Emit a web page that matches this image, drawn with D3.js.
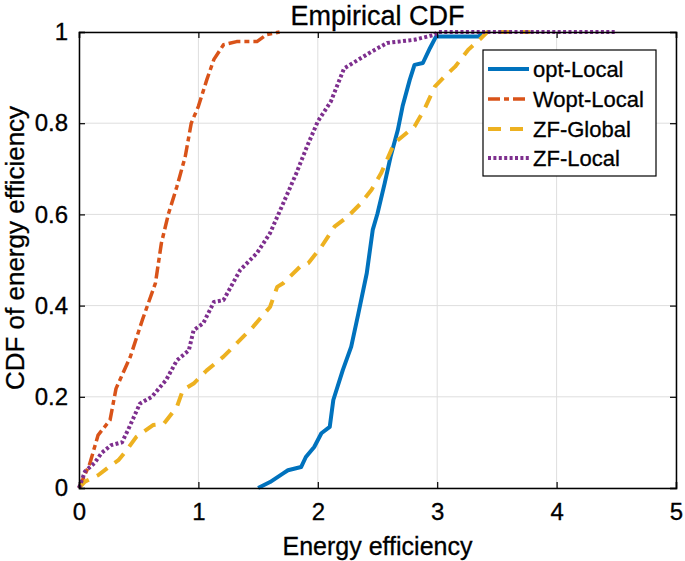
<!DOCTYPE html>
<html>
<head>
<meta charset="utf-8">
<script src="https://cdn.jsdelivr.net/npm/d3@7"></script>
<style>
  html, body { margin: 0; padding: 0; background: #fff; }
  svg text { font-family: "Liberation Sans", Arial, Helvetica, sans-serif; fill: #000; stroke: #000; stroke-width: 0.3px; }
</style>
</head>
<body>
<svg id="chart" width="685" height="561"></svg>
<script>
// ---- data ----
const xTicks = [0, 1, 2, 3, 4, 5];
const yTicks = [0, 0.2, 0.4, 0.6, 0.8, 1];
const seriesNames = ["opt-Local", "Wopt-Local", "ZF-Global", "ZF-Local"];

const optX = [1.50,1.60,1.71,1.75,1.86,1.90,1.97,2.03,2.10,2.13,2.21,2.28,2.34,2.41,2.46,2.50,2.56,2.61,2.67,2.71,2.77,2.81,2.88,2.94,2.99,3.36,3.36];
const optY = [0,0.013,0.032,0.039,0.046,0.068,0.09,0.12,0.134,0.193,0.259,0.31,0.383,0.471,0.566,0.602,0.668,0.727,0.785,0.837,0.895,0.928,0.932,0.965,0.99,0.99,1.0];

const woptX = [0,0.09,0.16,0.26,0.31,0.43,0.53,0.64,0.69,0.75,0.82,0.89,0.94,1.0,1.07,1.13,1.21,1.32,1.49,1.57,1.68];
const woptY = [0,0.053,0.116,0.149,0.218,0.288,0.368,0.449,0.537,0.602,0.661,0.727,0.80,0.837,0.895,0.94,0.972,0.979,0.979,0.994,1.0];

const zfgX = [0,0.05,0.16,0.27,0.33,0.39,0.48,0.62,0.71,0.82,0.87,0.96,1.07,1.21,1.32,1.46,1.54,1.60,1.66,1.71,1.85,1.92,2.03,2.14,2.25,2.36,2.45,2.53,2.64,2.81,2.89,2.98,3.06,3.15,3.26,3.37,3.42,3.78];
const zfgY = [0,0.014,0.028,0.05,0.061,0.08,0.112,0.138,0.141,0.178,0.215,0.229,0.258,0.288,0.317,0.354,0.379,0.397,0.441,0.449,0.485,0.493,0.529,0.573,0.595,0.624,0.654,0.69,0.756,0.793,0.829,0.88,0.902,0.924,0.961,0.987,1.0,1.0];

const zflX = [0,0.05,0.13,0.19,0.27,0.36,0.41,0.51,0.61,0.73,0.82,0.92,0.96,1.04,1.13,1.21,1.35,1.49,1.60,1.71,1.82,1.91,2.0,2.11,2.22,2.45,2.58,2.81,2.98,3.0,4.49];
const zflY = [0,0.036,0.055,0.077,0.094,0.10,0.127,0.185,0.20,0.237,0.28,0.302,0.346,0.361,0.408,0.412,0.478,0.515,0.559,0.624,0.69,0.749,0.804,0.848,0.92,0.957,0.976,0.983,0.994,1.0,1.0];

// ---- styling ----
const styles = [
  { color: "#0072BD", dash: null,        width: 4 },
  { color: "#D95319", dash: "12,4,5,4",  width: 3.5 },
  { color: "#EDB120", dash: "13,9",      width: 4 },
  { color: "#7E2F8E", dash: "3,2.4",     width: 4 }
];
const seriesData = [
  d3.zip(optX, optY),
  d3.zip(woptX, woptY),
  d3.zip(zfgX, zfgY),
  d3.zip(zflX, zflY)
];

const svg = d3.select("#chart");
const mL = 79, mR = 676, mT = 32, mB = 488;
const x = d3.scaleLinear().domain([0, 5]).range([mL, mR]);
const y = d3.scaleLinear().domain([0, 1]).range([mB, mT]);

// grid
const grid = svg.append("g").attr("stroke", "#dedede").attr("stroke-width", 1);
grid.selectAll("line.gx").data(xTicks).join("line").attr("class", "gx")
  .attr("x1", d => x(d)).attr("x2", d => x(d)).attr("y1", mT).attr("y2", mB);
grid.selectAll("line.gy").data(yTicks).join("line").attr("class", "gy")
  .attr("y1", d => y(d)).attr("y2", d => y(d)).attr("x1", mL).attr("x2", mR);

// clip
svg.append("clipPath").attr("id", "clip").append("rect")
  .attr("x", mL - 3).attr("y", mT - 3).attr("width", mR - mL + 6).attr("height", mB - mT + 6);

const line = d3.line().x(d => x(d[0])).y(d => y(d[1]));
const lines = svg.append("g").attr("clip-path", "url(#clip)");
seriesData.forEach((data, i) => {
  lines.append("path")
    .datum(data)
    .attr("d", line)
    .attr("fill", "none")
    .attr("stroke", styles[i].color)
    .attr("stroke-width", styles[i].width)
    .attr("stroke-dasharray", styles[i].dash)
    .attr("stroke-linejoin", "round");
});

// axes
const fmt = d => String(+d.toFixed(1));
const axB = svg.append("g").attr("transform", `translate(0,${mB})`)
  .call(d3.axisBottom(x).tickValues(xTicks).tickSize(-6).tickPadding(15).tickFormat(d3.format("d")));
const axL = svg.append("g").attr("transform", `translate(${mL},0)`)
  .call(d3.axisLeft(y).tickValues(yTicks).tickSize(-6).tickPadding(11).tickFormat(fmt));
const axT = svg.append("g").attr("transform", `translate(0,${mT})`)
  .call(d3.axisTop(x).tickValues(xTicks).tickSize(-6).tickFormat(""));
const axR = svg.append("g").attr("transform", `translate(${mR},0)`)
  .call(d3.axisRight(y).tickValues(yTicks).tickSize(-6).tickFormat(""));
[axB, axL, axT, axR].forEach(a => {
  a.selectAll(".domain").attr("stroke", "#000").attr("stroke-width", 1.5);
  a.selectAll(".tick line").attr("stroke", "#000").attr("stroke-width", 1.2);
  a.selectAll("text").attr("font-size", 24).attr("font-family", "Liberation Sans, Arial, sans-serif").attr("fill", "#000");
});

// titles
svg.append("text").attr("x", (mL + mR) / 2).attr("y", 25)
  .attr("text-anchor", "middle").attr("font-size", 27).text("Empirical CDF");
svg.append("text").attr("x", (mL + mR) / 2).attr("y", 555)
  .attr("text-anchor", "middle").attr("font-size", 25).text("Energy efficiency");
svg.append("text")
  .attr("transform", `translate(24,${(mT + mB) / 2 - 12}) rotate(-90)`)
  .attr("text-anchor", "middle").attr("font-size", 26).text("CDF of energy efficiency");

// legend
const lg = svg.append("g");
lg.append("rect").attr("x", 483).attr("y", 50).attr("width", 173).attr("height", 126)
  .attr("fill", "#fff").attr("stroke", "#000").attr("stroke-width", 1.2);
const rowY = [69, 99, 129, 158];
seriesNames.forEach((name, i) => {
  lg.append("line").attr("x1", 488).attr("x2", 529).attr("y1", rowY[i]).attr("y2", rowY[i])
    .attr("stroke", styles[i].color).attr("stroke-width", styles[i].width)
    .attr("stroke-dasharray", styles[i].dash);
  lg.append("text").attr("x", 533).attr("y", rowY[i]).attr("dy", "0.36em")
    .attr("font-size", 22).text(name);
});
</script>
</body>
</html>
